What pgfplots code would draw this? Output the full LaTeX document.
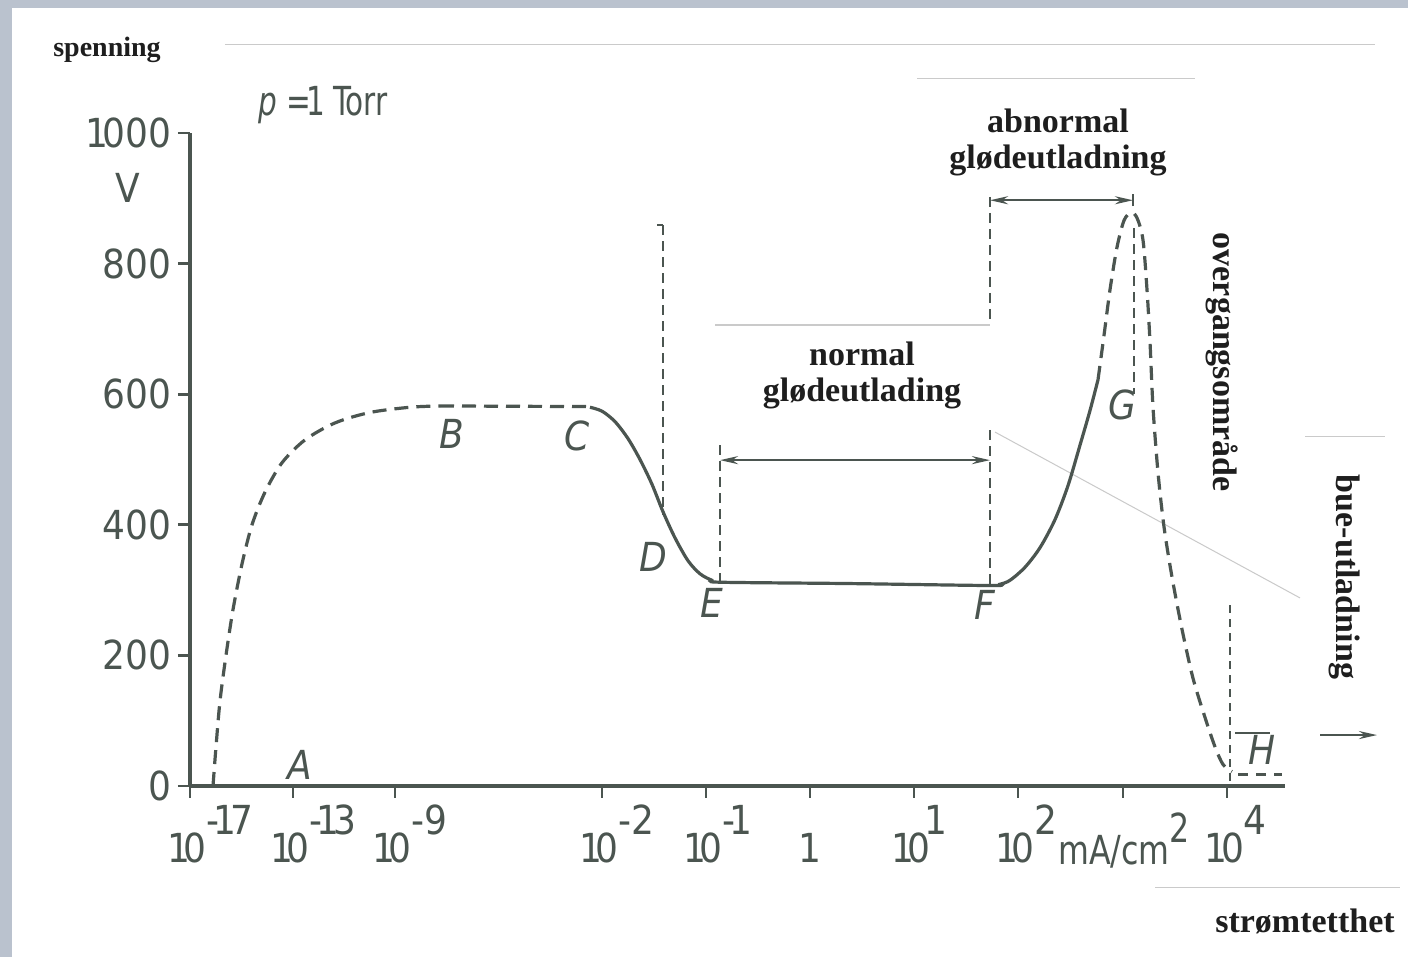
\documentclass[border=0pt]{standalone}
\usepackage{pgfplots}
\pgfplotsset{compat=1.18}
\usepackage{pgfplotstable}
\usepackage{fontspec}
\setmainfont{Liberation Serif}
\newfontfamily\din{DejaVu Sans Condensed}
\usetikzlibrary{arrows.meta}
\definecolor{ink}{HTML}{4B5550}
\definecolor{txt}{HTML}{1E1E1E}
\definecolor{scanedge}{HTML}{BAC2CE}
\definecolor{cut}{HTML}{CACACA}

\newcommand{\DIN}{\din\fontsize{20}{22}\selectfont}
\newcommand{\LAB}{\bfseries\fontsize{17}{18}\selectfont}
\newcommand{\one}{\kern-0.15em 1\kern-0.15em}
\newcommand{\ex}[1]{\one0\rlap{\raisebox{14pt}{#1}}}

% dashed rise A -> B
\pgfplotstableread{
x y
213 0
216 60
220 130
226 200
233 270
242 340
252 400
265 450
282 495
305 530
335 556
370 572
410 580
440 582
}\curveAB
% dashed plateau B -> C
\pgfplotstableread{
x y
440 582
590 581
}\plateauBC
% solid C -> D -> E -> F -> rising to G
\pgfplotstableread{
x y
590 580
602 574
615 558
628 532
640 500
652 462
663 420
675 380
688 345
700 325
712 315
722 312
850 310
990 307
1000 309
1010 315
1025 335
1040 365
1055 408
1068 460
1080 522
1090 575
1098 622
}\curveCG
% dashed G peak -> H
\pgfplotstableread{
x y
1098 622
1104 690
1110 760
1117 825
1124 866
1131 878
1137 870
1143 836
1147 760
1150 680
1153 580
1158 480
1164 397
1172 320
1182 240
1193 165
1205 105
1215 60
1223 33
1232 22
}\curveGH
% arc discharge level H
\pgfplotstableread{
x y
1238 17
1282 17
}\levelH

\begin{document}
\begin{tikzpicture}
\fill[scanedge] (-95pt,-85.5pt) rectangle (609pt,393pt);
\fill[white] (-89pt,-85.5pt) rectangle (609pt,389pt);
\path[use as bounding box] (-95pt,-85.5pt) rectangle (609pt,393pt);
\begin{axis}[
  scale only axis, width=547.5pt, height=326.5pt,
  xmin=190, xmax=1285, ymin=0, ymax=1000, enlargelimits=false,
  axis lines*=left, clip=false,
  axis line style={ink, line width=2pt},
  every tick/.style={ink, line width=1.4pt},
  major tick length=6pt, tick align=outside,
  xtick={190,293,395,602,706,810,914,1018,1123,1227},
  xticklabels={\ex{-\one7},\ex{-\one3},\ex{-9},\ex{-2},\ex{-\one},{\one\rlap{\raisebox{14pt}{\phantom{1}}}},\ex{\one},\ex{2},{},\ex{4}},
  ytick={0,200,400,600,800,1000},
  yticklabels={0,200,400,600,800,\one000},
  ticklabel style={font=\DIN, text=ink},
]
% faint scan artefacts
\draw[cut, line width=0.6pt] (225,1135) -- (1375,1135);
\draw[cut, line width=0.6pt] (917,1084) -- (1195,1084);
\draw[cut, line width=0.6pt] (715,706) -- (990,706);
\draw[cut, line width=0.6pt] (1305,535) -- (1385,535);
\draw[cut, line width=0.6pt] (1155,-156) -- (1400,-156);
\draw[cut, line width=0.5pt] (995,542) -- (1300,288);

% curve
\addplot[ink, line width=1.6pt, smooth, tension=0.5, dash pattern=on 7pt off 4pt] table {\curveAB};
\addplot[ink, line width=1.6pt, dash pattern=on 7pt off 4pt] table {\plateauBC};
\addplot[ink, line width=1.6pt, smooth, tension=0.5] table {\curveCG};
\addplot[ink, line width=1.6pt, smooth, tension=0.5, dash pattern=on 7pt off 4pt] table {\curveGH};
\addplot[ink, line width=1.6pt, dash pattern=on 5pt off 4pt] table {\levelH};

% region boundaries
\draw[ink, line width=1pt, dash pattern=on 5pt off 3pt] (663,859) -- (663,415);
\draw[ink, line width=1pt] (657,859) -- (663,859);
\draw[ink, line width=1pt, dash pattern=on 5pt off 3pt] (720,522) -- (720,312);
\draw[ink, line width=1pt, dash pattern=on 5pt off 3pt] (990,902) -- (990,709);
\draw[ink, line width=1pt, dash pattern=on 5pt off 3pt] (990,545) -- (990,308);
\draw[ink, line width=1pt, dash pattern=on 5pt off 3pt] (1134,854) -- (1134,600);
\draw[ink, line width=1pt, dash pattern=on 4pt off 3pt] (1230,277) -- (1230,0);
\draw[ink, line width=1pt] (1235,81) -- (1270,81);

% arrows
\draw[ink, line width=1.2pt, {Stealth[length=9pt,width=4pt]}-{Stealth[length=9pt,width=4pt]}] (720,499) -- (990,499);
\draw[ink, line width=1.2pt, {Stealth[length=9pt,width=4pt]}-{Stealth[length=9pt,width=4pt]}] (990,897) -- (1133,897);
\draw[ink, line width=1pt] (1133,888) -- (1133,906);
\draw[ink, line width=1.2pt, -{Stealth[length=9pt,width=4pt]}] (1320,78) -- (1377,78);

% point letters
\node[text=ink, font=\DIN\itshape] at (300,32) {A};
\node[text=ink, font=\DIN\itshape] at (452,539) {B};
\node[text=ink, font=\DIN\itshape] at (577,536) {C};
\node[text=ink, font=\DIN\itshape] at (653,351) {D};
\node[text=ink, font=\DIN\itshape] at (712,280) {E};
\node[text=ink, font=\DIN\itshape] at (985,277) {F};
\node[text=ink, font=\DIN\itshape] at (1122,583) {G};
\node[text=ink, font=\DIN\itshape] at (1262,55) {H};

% texts
\node[text=txt, font=\bfseries\fontsize{14}{16}\selectfont] at (107,1127) {spenning};
\node[text=ink, font=\DIN, anchor=base west, inner sep=0pt] at (258,1027) {\scalebox{0.82}[1]{\textit{p} =\one\kern0.12em\ Torr}};
\node[text=ink, font=\DIN] at (128,916) {V};
\node[text=txt, font=\LAB, align=center] at (862,629) {normal\\glødeutlading};
\node[text=txt, font=\LAB, align=center] at (1058,985) {abnormal\\glødeutladning};
\node[text=txt, font=\LAB, rotate=-90] at (1222,649) {overgangsområde};
\node[text=txt, font=\LAB, rotate=-90] at (1345,320) {bue-utladning};
\node[text=txt, font=\LAB] at (1305,-208) {strømtetthet};
\node[text=ink, font=\DIN, anchor=base west, inner sep=0pt] at (1058,-120) {\scalebox{0.88}[1]{mA/cm\raisebox{11pt}{2}}};
\end{axis}
\end{tikzpicture}
\end{document}
